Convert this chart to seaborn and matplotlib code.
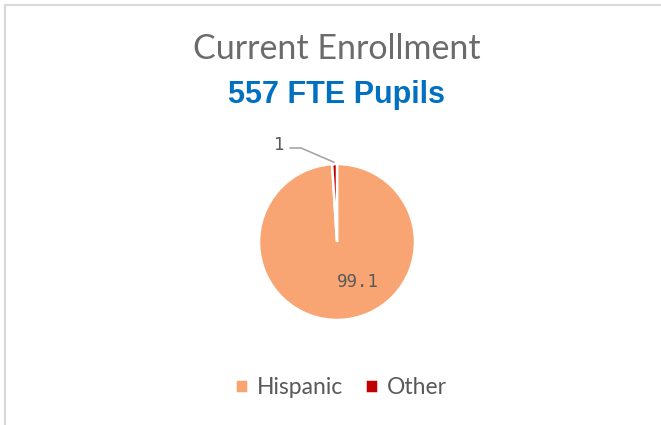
#!/usr/bin/env python3

import numpy as np
import matplotlib

matplotlib.use("Agg")
import matplotlib.pyplot as plt
from matplotlib.lines import Line2D
import seaborn as sns

# data
groups = ["Hispanic", "Other"]
shares = [99.1, 1]
share_labels = ["99.1", "1"]
colors = ["#F8A573", "#C00000"]

TITLE = "Current Enrollment"
SUBTITLE = "557 FTE Pupils"

sns.set_theme(style="white")
plt.rcParams["font.family"] = ["Lato", "DejaVu Sans"]

W, H = 661, 425
fig = plt.figure(figsize=(W / 100, H / 100), dpi=100)

# pie centre (337, 242) px, radius 78 px
cx, cy, r = 337, 242, 78
ax = fig.add_axes([(cx - r) / W, (H - cy - r) / H, 2 * r / W, 2 * r / H])

wedges, _ = ax.pie(
    shares,
    colors=sns.color_palette(colors),
    startangle=90,
    counterclock=False,
    wedgeprops=dict(edgecolor="white", linewidth=1.8),
)
ax.set_xlim(-1, 1)
ax.set_ylim(-1, 1)
ax.set_aspect("equal")
ax.axis("off")

label_color = "#595959"
mono = ["DejaVu Sans Mono"]

# inside label for the big slice
ax.text(0.27, -0.51, share_labels[0], ha="center", va="center",
        fontsize=12.5, color=label_color, family=mono)

# outside label with leader line for the small slice
w = wedges[1]
mid = np.deg2rad((w.theta1 + w.theta2) / 2)
tip = (1.02 * np.cos(mid), 1.02 * np.sin(mid))
ax.plot([tip[0], -0.46, -0.61], [tip[1], 1.205, 1.205], color="#A6A6A6",
        lw=1.2, clip_on=False, solid_capstyle="butt")
ax.text(-0.74, 1.24, share_labels[1], ha="center", va="center",
        fontsize=12.5, color=label_color, family=mono)

fig.text(337 / W, 1 - 49 / H, TITLE, ha="center", va="center",
         fontsize=24.5, color="#6B6B6B")
fig.text(337 / W, 1 - 95 / H, SUBTITLE, ha="center", va="center",
         fontsize=22, color="#0070C0", fontweight="bold",
         family=["Liberation Sans"])

fig.legend(wedges, groups, loc="center", bbox_to_anchor=(341 / W, 1 - 388 / H),
           ncol=2, frameon=False, fontsize=16.5, labelcolor=label_color,
           handlelength=0.55, handleheight=0.55, handletextpad=0.4,
           columnspacing=0.95)

# chart frame (left and top edges visible)
border = "#D9D9D9"
fig.add_artist(Line2D([5 / W, 5 / W], [0, 1 - 5 / H], transform=fig.transFigure,
                      color=border, lw=1.5))
fig.add_artist(Line2D([5 / W, 1], [1 - 5 / H, 1 - 5 / H], transform=fig.transFigure,
                      color=border, lw=1.5))

fig.savefig("out.png", dpi=100, facecolor="white")
